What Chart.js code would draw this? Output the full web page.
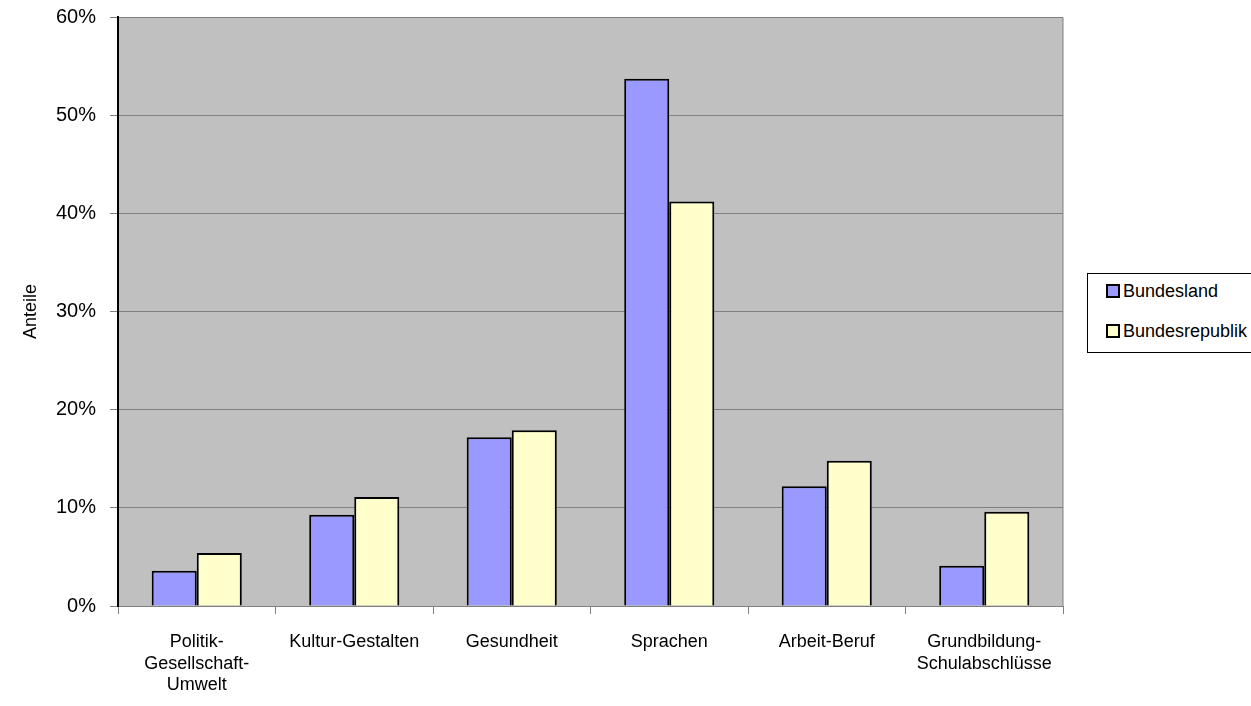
<!DOCTYPE html>
<html>
<head>
<meta charset="utf-8">
<script src="https://cdn.jsdelivr.net/npm/chart.js@4"></script>
<style>
  body { margin: 0; background: #fff; }
  #wrap { position: relative; width: 1251px; height: 706px; }
  #legend {
    position: absolute; left: 1087px; top: 273px; width: 180px; height: 80px;
    border: 1px solid #000; background: #fff; box-sizing: border-box;
    font-family: "Liberation Sans", Arial, sans-serif; font-size: 18px;
  }
  #legend div { position: absolute; left: 18px; white-space: nowrap; }
  #legend span { display: inline-block; width: 10px; height: 10px; border: 2px solid #000; margin-right: 3px; vertical-align: -1px; }
</style>
</head>
<body>
<div id="wrap">
  <canvas id="chartBar" width="1251" height="706"></canvas>
  <div id="legend">
    <div style="top:7px"><span style="background:#9999ff"></span>Bundesland</div>
    <div style="top:47px"><span style="background:#ffffcc"></span>Bundesrepublik</div>
  </div>
</div>
<script>
const categories = [
  ["Politik-", "Gesellschaft-", "Umwelt"],
  "Kultur-Gestalten",
  "Gesundheit",
  "Sprachen",
  "Arbeit-Beruf",
  ["Grundbildung-", "Schulabschlüsse"],
];
const bundesland = [3.6, 9.3, 17.2, 53.7, 12.2, 4.1];
const bundesrepublik = [5.4, 11.1, 17.9, 41.2, 14.8, 9.6];
const yTicks = [0, 10, 20, 30, 40, 50, 60];

// grey plot area behind the bars
const plotBg = {
  id: "plotBg",
  beforeDraw(chart) {
    const { ctx, chartArea: a } = chart;
    ctx.save();
    ctx.fillStyle = "#c0c0c0";
    ctx.fillRect(a.left, a.top, a.right - a.left, a.bottom - a.top);
    ctx.strokeStyle = "#808080";
    ctx.lineWidth = 1;
    ctx.beginPath();
    ctx.moveTo(a.left, a.top + 0.5);
    ctx.lineTo(a.right, a.top + 0.5);
    ctx.lineTo(a.right, a.bottom);
    ctx.stroke();
    ctx.restore();
  },
};

const font = "'Liberation Sans', Arial, sans-serif";

const dataBar = {
  labels: categories,
  datasets: [
    {
      label: "Bundesland",
      data: bundesland,
      backgroundColor: "#9999ff",
      borderColor: "#000",
      borderWidth: 2,
      borderSkipped: "bottom",
    },
    {
      label: "Bundesrepublik",
      data: bundesrepublik,
      backgroundColor: "#ffffcc",
      borderColor: "#000",
      borderWidth: 2,
      borderSkipped: "bottom",
    },
  ],
};

const configBar = {
  type: "bar",
  data: dataBar,
  plugins: [plotBg],
  options: {
    responsive: false,
    animation: false,
    categoryPercentage: 0.572,
    barPercentage: 1,
    layout: { padding: { top: 17, right: 188, left: 20, bottom: 0 } },
    plugins: { legend: { display: false }, tooltip: { enabled: false } },
    scales: {
      x: {
        offset: true,
        grid: {
          offset: true,
          drawOnChartArea: false,
          drawTicks: true,
          tickLength: 8,
          color: "#808080",
        },
        border: { color: "#808080", width: 1 },
        ticks: {
          color: "#000",
          padding: 18,
          maxRotation: 0,
          autoSkip: false,
          font: { family: font, size: 18, lineHeight: 1.17 },
        },
        afterFit(scale) { scale.height = 100; },
      },
      y: {
        min: 0,
        max: 60,
        afterBuildTicks(scale) { scale.ticks = yTicks.map(v => ({ value: v })); },
        grid: { color: "#808080", tickLength: 8, lineWidth: 1 },
        border: { color: "#000", width: 2 },
        ticks: {
          color: "#000",
          padding: 14,
          callback: v => v + "%",
          font: { family: font, size: 20 },
        },
        title: {
          display: true,
          text: "Anteile",
          color: "#000",
          padding: { top: 0, bottom: 0 },
          font: { family: font, size: 18 },
        },
        afterFit(scale) {
          scale.width = 98;
          scale.paddingTop = 0;
          scale.paddingBottom = 0;
        },
      },
    },
  },
};

var chartBar = new Chart(document.getElementById("chartBar"), configBar);
</script>
</body>
</html>
